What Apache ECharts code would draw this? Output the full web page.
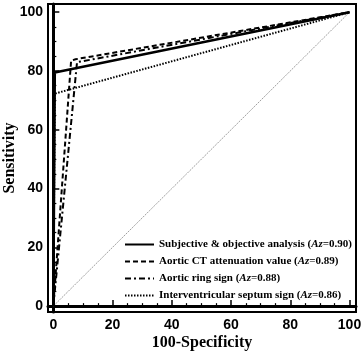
<!DOCTYPE html>
<html>
<head>
<meta charset="utf-8">
<script src="https://cdn.jsdelivr.net/npm/echarts@6/dist/echarts.min.js"></script>
<style>
  html, body { margin: 0; padding: 0; background: #fff; }
  #chart { width: 361px; height: 352px; }
</style>
</head>
<body>
<div id="chart"></div>
<script>
// curve names and their Az values
var curveNames = [
    'Subjective & objective analysis',
    'Aortic CT attenuation value',
    'Aortic ring sign',
    'Interventricular septum sign'
];
var azValues = ['0.90', '0.89', '0.88', '0.86'];

// ROC points [100-Specificity, Sensitivity]
var subjObj = [[0, 0], [0.5, 79.5], [100, 100]];
var aorticCT = [[0, 0], [6, 83.5], [7.5, 84], [100, 100]];
var aorticRing = [[0, 0], [8, 83], [100, 100]];
var septum = [[0, 0], [0.5, 72.3], [100, 100]];
var diagonal = [[0, 0], [100, 100]];

var majorTicks = [0, 20, 40, 60, 80, 100];
var minorTicks = [5, 10, 15, 25, 30, 35, 45, 50, 55, 65, 70, 75, 85, 90, 95];

var tickFont = { fontFamily: 'Liberation Sans', fontWeight: 'bold', fontSize: 14, color: '#000' };
var titleFont = { fontFamily: 'Liberation Serif', fontWeight: 'bold', fontSize: 16, color: '#000' };

function mainAxis(isX) {
    return {
        type: 'value',
        min: isX ? -1.8 : -2,
        max: isX ? 102.2 : 102.8,
        name: isX ? '100-Specificity' : 'Sensitivity',
        nameLocation: 'middle',
        nameGap: isX ? 23 : 30,
        nameMoveOverlap: false,
        nameTextStyle: titleFont,
        splitLine: { show: false },
        axisLine: { show: true, lineStyle: { color: '#000', width: 3 } },
        axisTick: { show: true, inside: true, length: 6, customValues: majorTicks, lineStyle: { color: '#000', width: 1.5 } },
        axisLabel: Object.assign({ customValues: majorTicks, margin: isX ? 6 : 5 }, tickFont)
    };
}
function minorAxis(isX) {
    return {
        type: 'value',
        min: isX ? -1.8 : -2,
        max: isX ? 102.2 : 102.8,
        position: isX ? 'bottom' : 'left',
        splitLine: { show: false },
        axisLine: { show: false },
        axisLabel: { show: false },
        axisTick: { show: true, inside: true, length: 3, customValues: minorTicks, lineStyle: { color: '#000', width: 1.2 } }
    };
}

var lineTypes = ['solid', [5, 3], [6, 3, 2, 3], [1.5, 1.5]];
var lineWidths = [2.5, 2, 2, 2];
var curveData = [subjObj, aorticCT, aorticRing, septum];

var series = [{
    name: 'ref',
    type: 'line',
    data: diagonal,
    symbol: 'none',
    silent: true,
    lineStyle: { color: '#888', width: 0.8, type: [2, 1] }
}];
curveData.forEach(function (d, i) {
    series.push({
        name: curveNames[i],
        type: 'line',
        data: d,
        symbol: 'none',
        z: 3 + i,
        lineStyle: { color: '#000', width: lineWidths[i], type: lineTypes[i] },
        itemStyle: { color: '#000' }
    });
});

var chart = echarts.init(document.getElementById('chart'));
chart.setOption({
    animation: false,
    backgroundColor: '#fff',
    grid: {
        left: 48, right: 5, top: 4, bottom: 40,
        outerBoundsMode: 'none',
        containLabel: false,
        show: true, borderColor: '#000', borderWidth: 2, backgroundColor: 'transparent'
    },
    xAxis: [mainAxis(true), minorAxis(true)],
    yAxis: [mainAxis(false), minorAxis(false)],
    legend: {
        data: curveNames,
        orient: 'vertical',
        left: 124,
        top: 239,
        itemWidth: 29,
        itemHeight: 10,
        itemGap: 6,
        padding: 0,
        itemStyle: { opacity: 0 },
        formatter: function (name) {
            var i = curveNames.indexOf(name);
            return name + ' ({i|Az}=' + azValues[i] + ')';
        },
        textStyle: {
            fontFamily: 'Liberation Serif',
            fontWeight: 'bold',
            fontSize: 11,
            color: '#000',
            rich: {
                i: { fontFamily: 'Liberation Serif', fontWeight: 'bold', fontStyle: 'italic', fontSize: 11, color: '#000' }
            }
        }
    },
    series: series
});
</script>
</body>
</html>
